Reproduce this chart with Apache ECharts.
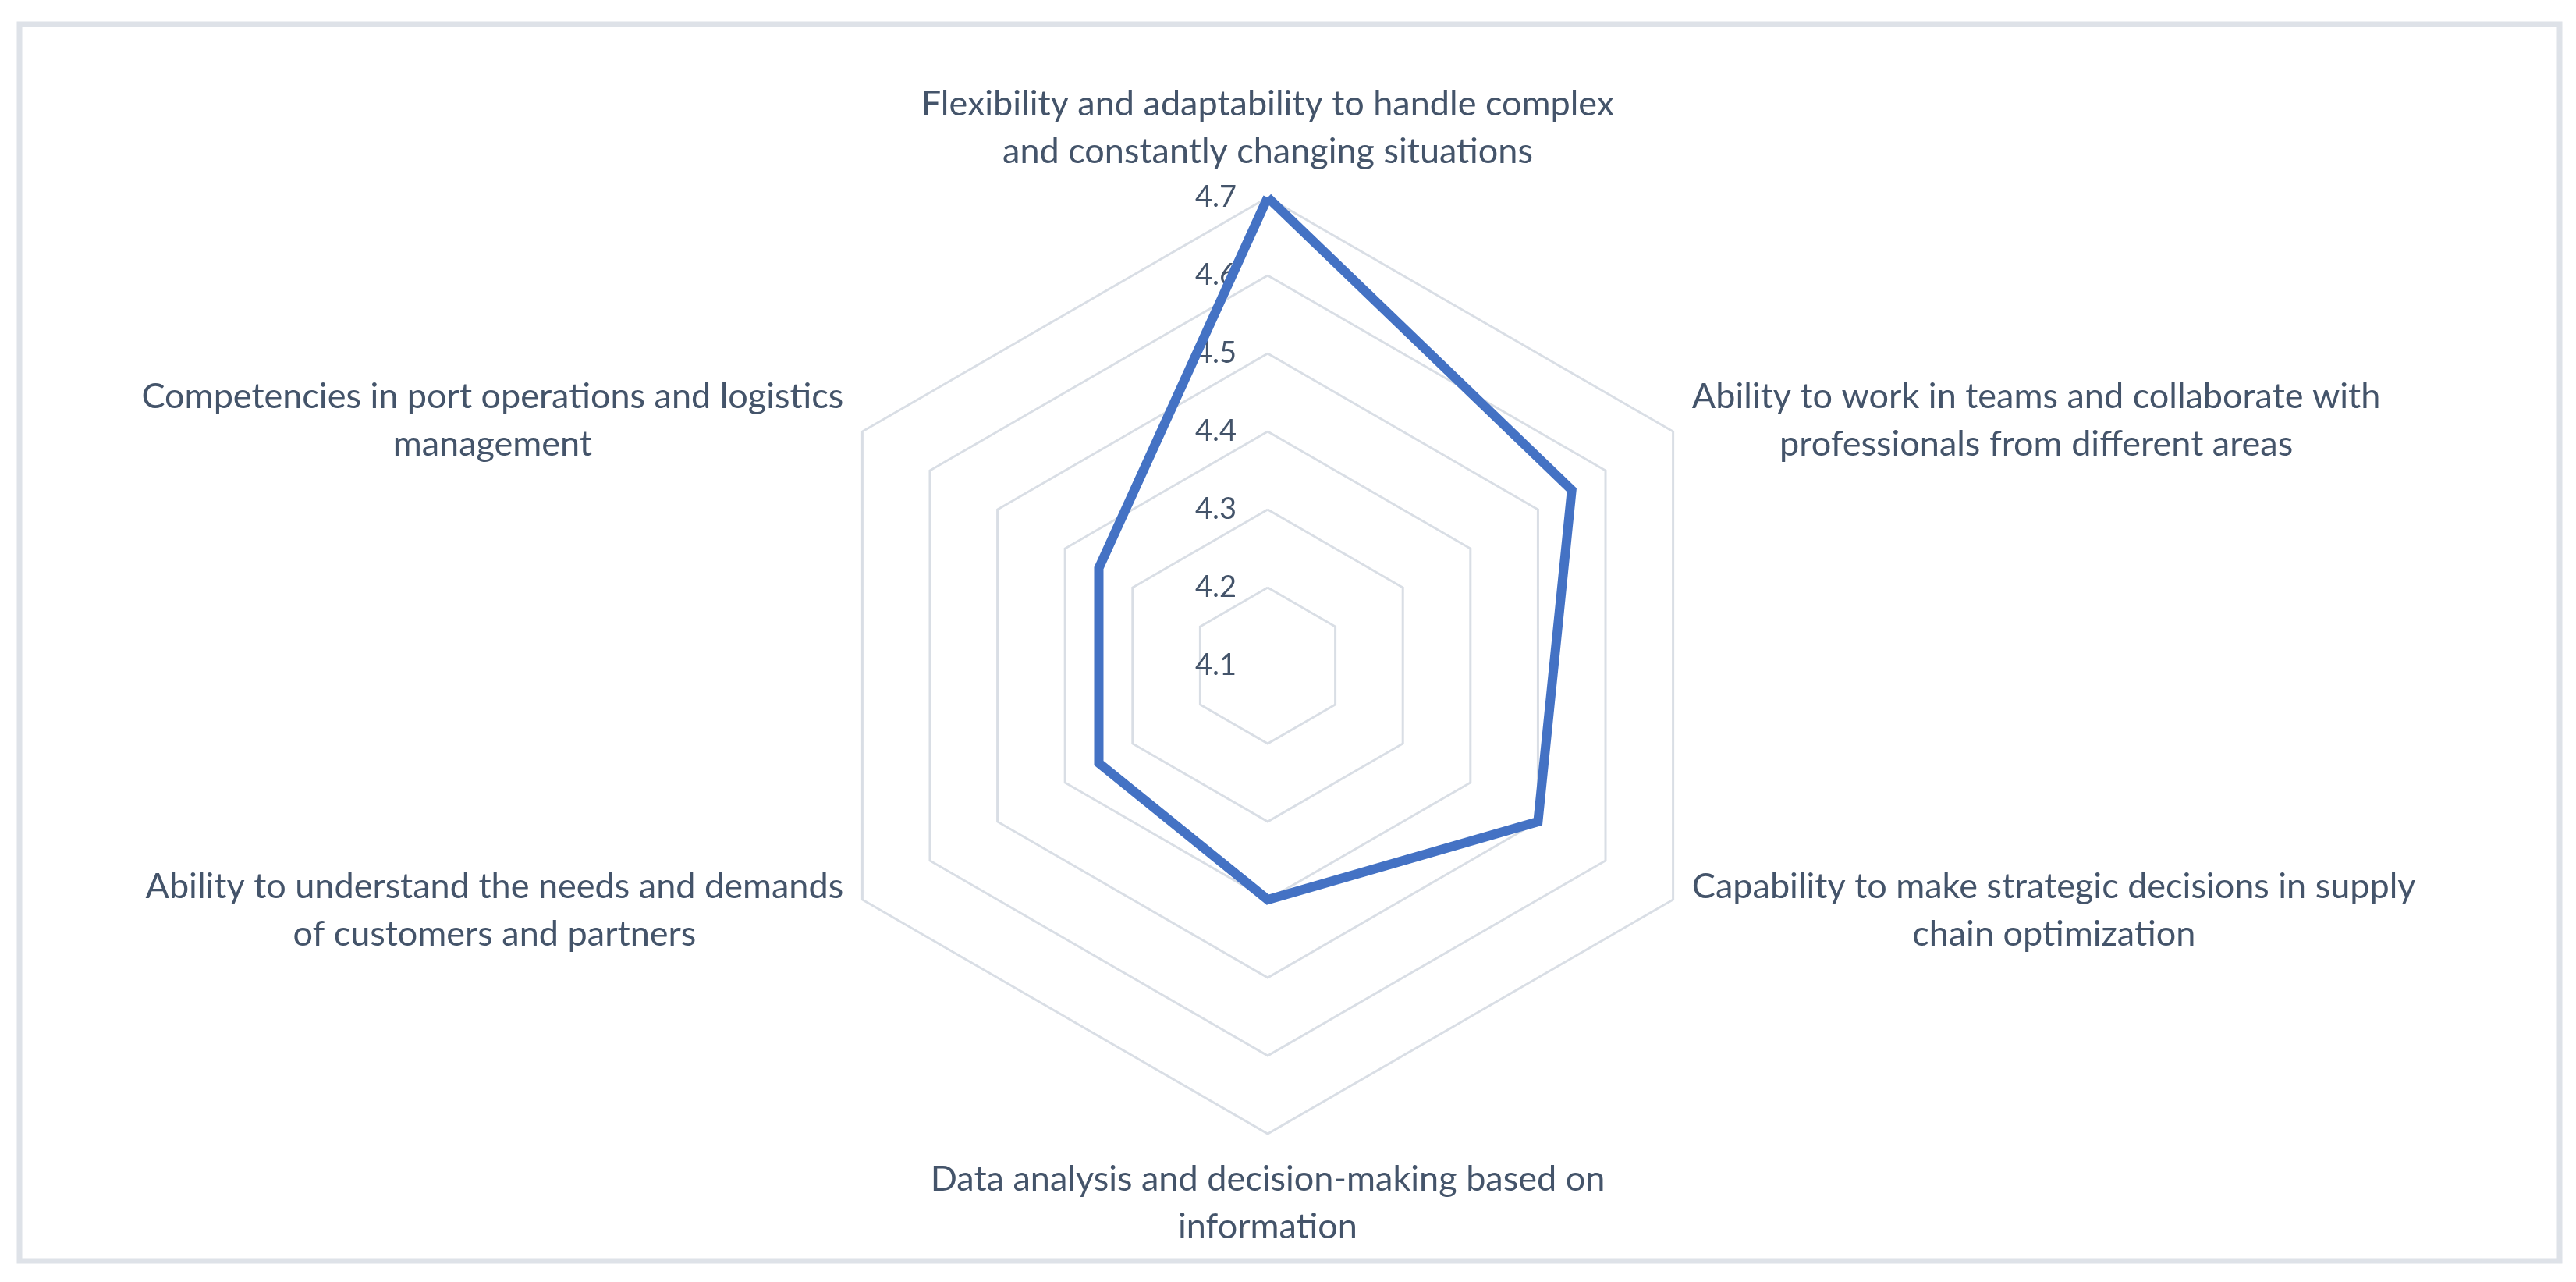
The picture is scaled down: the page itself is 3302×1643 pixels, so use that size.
<!DOCTYPE html>
<html>
<head>
<meta charset="utf-8">
<script src="https://cdn.jsdelivr.net/npm/echarts@6/dist/echarts.min.js"></script>
<style>
html,body{margin:0;padding:0;background:#fff;}
#chart{width:3302px;height:1643px;}
</style>
</head>
<body>
<div id="chart"></div>
<script>
// Categories (clockwise from top, as in the reference)
const categories = [
  "Flexibility and adaptability to handle complex\nand constantly changing situations",
  "Ability to work in teams and collaborate with\nprofessionals from different areas",
  "Capability to make strategic decisions in supply\nchain optimization",
  "Data analysis and decision-making based on\ninformation",
  "Ability to understand the needs and demands\nof customers and partners",
  "Competencies in port operations and logistics\nmanagement"
];
const values = [4.70, 4.55, 4.50, 4.40, 4.35, 4.35];
const axisMin = 4.1;
const axisMax = 4.7;
const tickLabels = ["4.1","4.2","4.3","4.4","4.5","4.6","4.7"];

// ECharts lays radar indicators counter-clockwise; reorder to get clockwise layout
const order = [0, 5, 4, 3, 2, 1];
const textColor = '#44546A';
const font = 'Lato';

const indicators = order.map((i, k) => {
  const ind = { name: categories[i], min: axisMin, max: axisMax };
  if (k === 0) ind.axisLabel = { show: true };
  return ind;
});
const seriesValues = order.map(i => values[i]);

const chart = echarts.init(document.getElementById('chart'), null, { renderer: 'canvas' });
chart.setOption({
  backgroundColor: '#ffffff',
  animation: false,
  graphic: [{
    type: 'rect',
    shape: { x: 25, y: 31, width: 3256, height: 1585 },
    style: { fill: 'none', stroke: '#DEE2E8', lineWidth: 7 },
    silent: true
  }],
  radar: {
    center: [1625, 853],
    radius: 600,
    startAngle: 90,
    shape: 'polygon',
    splitNumber: 6,
    indicator: indicators,
    nameGap: 28,
    axisName: {
      color: textColor,
      fontFamily: font,
      fontSize: 45,
      formatter: function (name) {
        return name.split('\n').map(s => '{c|' + s + '}').join('\n');
      },
      rich: {
        c: { align: 'center', color: textColor, fontFamily: font, fontSize: 45, lineHeight: 61 }
      }
    },
    axisLine: { show: false },
    axisTick: { show: false },
    splitArea: { show: false },
    splitLine: { lineStyle: { color: '#D9DEE5', width: 3 } },
    axisLabel: {
      show: false,
      color: textColor,
      fontFamily: font,
      fontSize: 38,
      margin: 40,
      formatter: function (v) {
        const s = (Math.round(v * 10) / 10).toFixed(1);
        return tickLabels.indexOf(s) >= 0 ? s : '';
      }
    }
  },
  series: [{
    type: 'radar',
    symbol: 'none',
    lineStyle: { color: '#4472C4', width: 12, join: 'miter' },
    data: [{ value: seriesValues, name: 'Score' }]
  }]
});
</script>
</body>
</html>
